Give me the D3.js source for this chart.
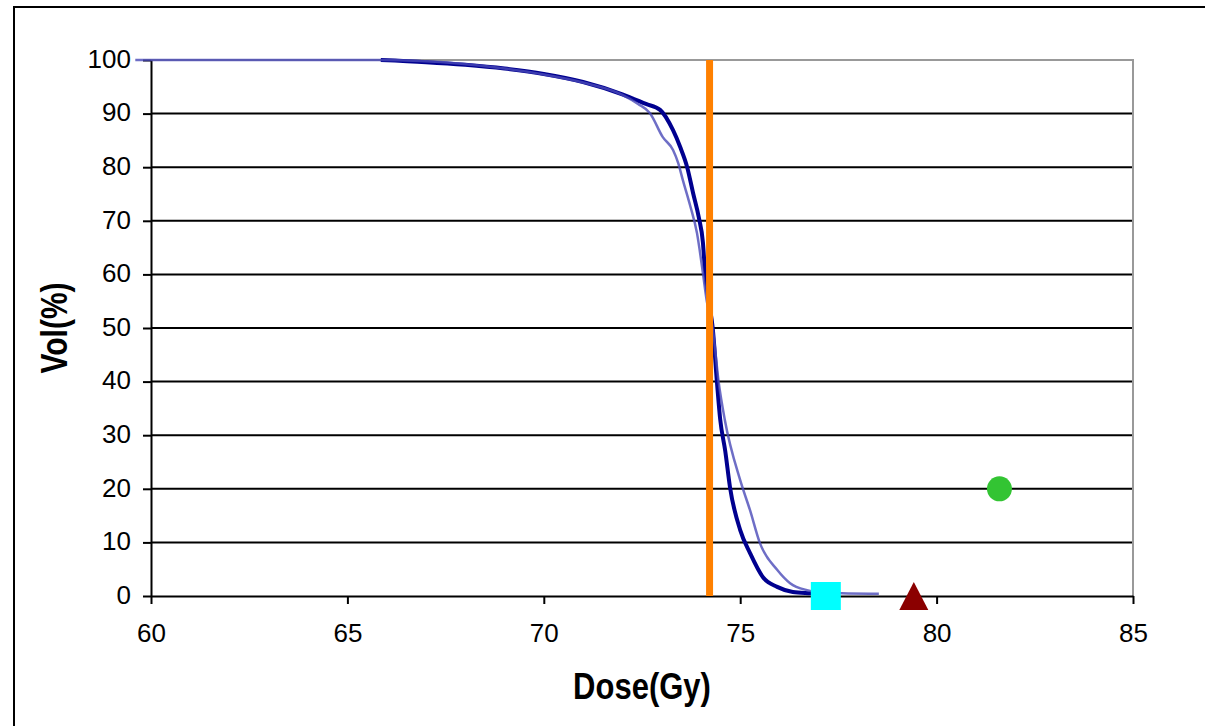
<!DOCTYPE html>
<html>
<head>
<meta charset="utf-8">
<script src="https://cdn.jsdelivr.net/npm/d3@7"></script>
<style>
  body { margin: 0; background: #fff; }
  svg { display: block; font-family: "Liberation Sans", Arial, sans-serif; }
  .tick text { font-size: 26px; fill: #000; }
  .domain, .tick line { stroke: #000; stroke-width: 2px; }
</style>
</head>
<body>
<div id="chart"></div>
<script>
// dose (Gy) / volume (%)
const doseThick = [65.85, 67, 68, 69, 70, 71, 72, 72.6, 72.96, 73.29, 73.47, 73.65, 73.8, 73.95, 74.05, 74.1, 74.2, 74.3, 74.41, 74.49, 74.62, 74.74, 75.0, 75.25, 75.58, 75.94, 76.34, 76.8, 77.2];
const volThick  = [100, 99.6, 99.1, 98.4, 97.4, 95.9, 93.6, 91.8, 90.7, 86.9, 83.8, 80, 75.2, 70.5, 66, 61, 55, 50, 39.7, 33, 27, 20.3, 12.3, 8.0, 3.5, 1.7, 0.75, 0.5, 0.3];

const doseThin = [59.6, 65.8, 67.9, 69, 70, 71, 72, 72.4, 72.7, 73.03, 73.29, 73.42, 73.54, 73.72, 73.9, 74.05, 74.15, 74.3, 74.45, 74.61, 75.0, 75.25, 75.5, 75.94, 76.27, 76.7, 77.2, 78.53];
const volThin  = [100, 100, 99.3, 98.4, 97.3, 95.8, 93.5, 91.8, 90.1, 85.6, 83.2, 80.8, 77.6, 73.0, 67.7, 60.3, 55, 50, 40, 32.8, 21.6, 16, 9.9, 4.9, 2.4, 1.1, 0.6, 0.4];

const prescribedDose = 74.22;

// constraint markers
const squarePt = [77.18, 0];
const trianglePt = [79.42, 0];
const circlePt = [81.6, 20];

const xTicks = [60, 65, 70, 75, 80, 85];
const yTicks = [0, 10, 20, 30, 40, 50, 60, 70, 80, 90, 100];

const width = 1205, height = 726;
const margin = { top: 60, right: 72, bottom: 130, left: 151 };
const innerWidth = width - margin.left - margin.right;   // 982
const innerHeight = height - margin.top - margin.bottom; // 536

const svg = d3.select("#chart")
  .append("svg")
    .attr("width", width)
    .attr("height", height);

// outer frame (only top and left edges show)
svg.append("path")
  .attr("d", `M14,${height} L14,7 L${width},7`)
  .attr("fill", "none")
  .attr("stroke", "#000")
  .attr("stroke-width", 2);

const xScale = d3.scaleLinear().domain([60, 85]).range([0, innerWidth]);
const yScale = d3.scaleLinear().domain([0, 100]).range([innerHeight, 0]);

const inner = svg.append("g")
  .attr("transform", `translate(${margin.left}, ${margin.top})`);

// gridlines
inner.append("g")
  .selectAll("line")
  .data(yTicks.filter(d => d > 0 && d < 100))
  .join("line")
    .attr("x1", 0)
    .attr("x2", innerWidth)
    .attr("y1", d => yScale(d))
    .attr("y2", d => yScale(d))
    .attr("stroke", "#000")
    .attr("stroke-width", 2);

// plot area top/right border
inner.append("path")
  .attr("d", `M0,${yScale(100)} L${xScale(85)},${yScale(100)} L${xScale(85)},${yScale(0)}`)
  .attr("fill", "none")
  .attr("stroke", "#999")
  .attr("stroke-width", 2);

// axes
const leftAxis = d3.axisLeft(yScale)
  .tickValues(yTicks)
  .tickSize(8)
  .tickPadding(12)
  .tickSizeOuter(0);
const gy = inner.append("g").call(leftAxis);
gy.selectAll("text").attr("dy", "0.28em");

const bottomAxis = d3.axisBottom(xScale)
  .tickValues(xTicks)
  .tickSize(8)
  .tickSizeOuter(0);
const gx = inner.append("g")
  .attr("transform", `translate(0, ${innerHeight})`)
  .call(bottomAxis);
gx.selectAll("text").attr("y", 46).attr("dy", 0);

// DVH curves
const line = d3.line()
  .x(d => xScale(d[0]))
  .y(d => yScale(d[1]))
  .curve(d3.curveMonotoneX);

const thinData = doseThin.map((d, i) => [d, volThin[i]]);
const thickData = doseThick.map((d, i) => [d, volThick[i]]);

inner.append("path")
  .datum(thickData)
  .attr("d", line)
  .attr("fill", "none")
  .attr("stroke", "#00008f")
  .attr("stroke-width", 4);

inner.append("path")
  .datum(thinData)
  .attr("d", line)
  .attr("fill", "none")
  .attr("stroke", "#4a4ab8")
  .attr("stroke-opacity", 0.8)
  .attr("stroke-width", 2.5);

// prescription line
inner.append("line")
  .attr("x1", xScale(prescribedDose))
  .attr("x2", xScale(prescribedDose))
  .attr("y1", yScale(0))
  .attr("y2", yScale(100))
  .attr("stroke", "#ff8000")
  .attr("stroke-width", 7);

// markers
inner.append("rect")
  .attr("x", xScale(squarePt[0]) - 15)
  .attr("y", yScale(squarePt[1]) - 14)
  .attr("width", 30)
  .attr("height", 28)
  .attr("fill", "#00ffff");

const tx = xScale(trianglePt[0]), ty = yScale(trianglePt[1]);
inner.append("path")
  .attr("d", `M${tx},${ty - 14} L${tx + 14.5},${ty + 14} L${tx - 14.5},${ty + 14} Z`)
  .attr("fill", "#8b0000");

inner.append("circle")
  .attr("cx", xScale(circlePt[0]))
  .attr("cy", yScale(circlePt[1]))
  .attr("r", 12.5)
  .attr("fill", "#33c433");

// axis titles
svg.append("text")
  .attr("transform", `translate(${margin.left + innerWidth / 2}, 699) scale(1, 1.2)`)
  .attr("text-anchor", "middle")
  .attr("font-size", 31)
  .attr("font-weight", "bold")
  .text("Dose(Gy)");

svg.append("text")
  .attr("transform", `translate(67, ${margin.top + innerHeight / 2}) rotate(-90) scale(1, 1.2)`)
  .attr("text-anchor", "middle")
  .attr("font-size", 30)
  .attr("font-weight", "bold")
  .text("Vol(%)");
</script>
</body>
</html>
